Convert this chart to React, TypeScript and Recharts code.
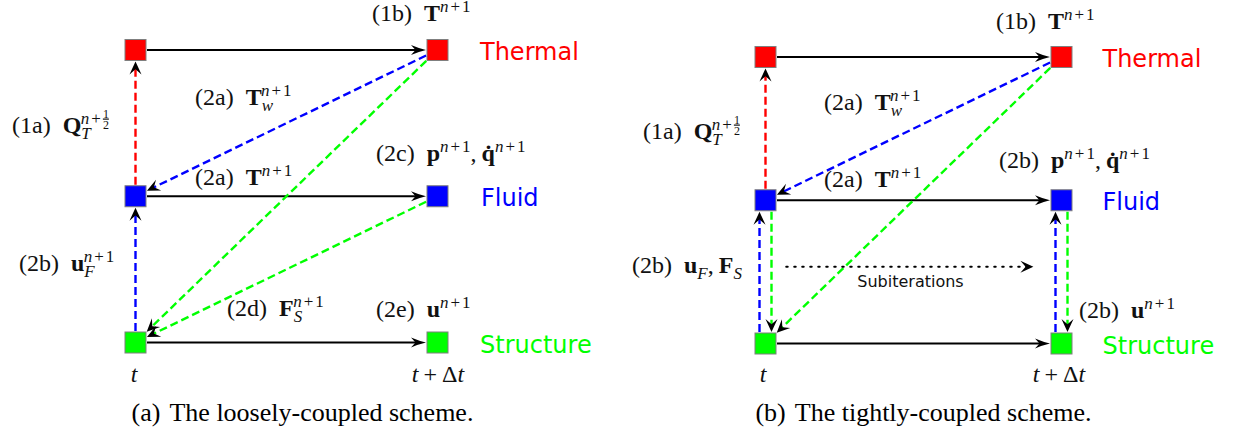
import React from 'react'
import { ScatterChart, Scatter, XAxis, YAxis, ReferenceLine, ReferenceDot } from 'recharts'

// ---- data -------------------------------------------------------------

// x: time level (0 = t, 1 = t + Δt), y: field level
const fields = ['Structure', 'Fluid', 'Thermal']
const fieldColors: Record<string, string> = {
  Structure: '#00ff00',
  Fluid: '#0000ff',
  Thermal: '#ff0000',
}

type NodeId = 'S0' | 'S1' | 'F0' | 'F1' | 'T0' | 'T1'

const nodes: { id: NodeId; step: number; level: number }[] = [
  { id: 'S0', step: 0, level: 0 },
  { id: 'S1', step: 1, level: 0 },
  { id: 'F0', step: 0, level: 1 },
  { id: 'F1', step: 1, level: 1 },
  { id: 'T0', step: 0, level: 2 },
  { id: 'T1', step: 1, level: 2 },
]

type EdgeKind = 'advance' | 'thermal' | 'fluid' | 'structure' | 'subiter'
type End = NodeId | [number, number]
type Edge = { from: End; to: End; kind: EdgeKind; lane?: number }

const looseEdges: Edge[] = [
  { from: 'T0', to: 'T1', kind: 'advance' },
  { from: 'F0', to: 'F1', kind: 'advance' },
  { from: 'S0', to: 'S1', kind: 'advance' },
  { from: 'F0', to: 'T0', kind: 'thermal' },
  { from: 'T1', to: 'F0', kind: 'fluid' },
  { from: 'T1', to: 'S0', kind: 'structure' },
  { from: 'F1', to: 'S0', kind: 'structure' },
  { from: 'S0', to: 'F0', kind: 'fluid' },
]

const tightEdges: Edge[] = [
  { from: 'T0', to: 'T1', kind: 'advance' },
  { from: 'F0', to: 'F1', kind: 'advance' },
  { from: 'S0', to: 'S1', kind: 'advance' },
  { from: 'F0', to: 'T0', kind: 'thermal' },
  { from: 'T1', to: 'F0', kind: 'fluid' },
  { from: 'T1', to: 'S0', kind: 'structure' },
  { from: 'S0', to: 'F0', kind: 'fluid', lane: -1 },
  { from: 'F0', to: 'S0', kind: 'structure', lane: 1 },
  { from: 'S1', to: 'F1', kind: 'fluid', lane: -1 },
  { from: 'F1', to: 'S1', kind: 'structure', lane: 1 },
  { from: [0.07, 0.535], to: [0.905, 0.535], kind: 'subiter' },
]

// math label pieces
type Part = {
  s: string
  f?: 'rm' | 'bf' | 'it'
  at?: 'base' | 'sup' | 'sub' | 'num' | 'den'
  gap?: number
  back?: number
}
const rm = (s: string, gap?: number): Part => ({ s, f: 'rm', gap })
const bf = (s: string, gap = 12): Part => ({ s, f: 'bf', gap })
const it = (s: string, gap?: number): Part => ({ s, f: 'it', gap })
const sub = (s: string): Part => ({ s, f: 'it', at: 'sub' })
const np1 = (back?: number): Part[] => [
  { s: 'n', f: 'it', at: 'sup', back },
  { s: '+', at: 'sup', gap: 2 },
  { s: '1', at: 'sup', gap: 2 },
]
const qHalf: Part[] = [
  rm('(1a)'),
  bf('Q'),
  sub('T'),
  { s: 'n', f: 'it', at: 'sup', back: 10 },
  { s: '+', at: 'sup', gap: 2 },
  { s: '1', at: 'num', gap: 2 },
  { s: '2', at: 'den', back: 6 },
]
const timeNow: Part[] = [it('t')]
const timeNext: Part[] = [it('t'), rm('+', 5), rm('Δ', 5), it('t')]

type Label = { id: string; at: NodeId; parts: Part[]; anchor?: 'start' | 'middle'; sans?: boolean }

const looseLabels: Label[] = [
  { id: '1b', at: 'T1', parts: [rm('(1b)'), bf('T'), ...np1()] },
  { id: '2aw', at: 'T0', parts: [rm('(2a)'), bf('T'), sub('w'), ...np1(12)] },
  { id: '1a', at: 'T0', parts: qHalf },
  { id: '2a', at: 'F0', parts: [rm('(2a)'), bf('T'), ...np1()] },
  { id: '2c', at: 'F1', parts: [rm('(2c)'), bf('p'), ...np1(), rm(','), bf('q̇', 5), ...np1()] },
  { id: '2b', at: 'S0', parts: [rm('(2b)'), bf('u'), sub('F'), ...np1(11)] },
  { id: '2d', at: 'S0', parts: [rm('(2d)'), bf('F'), sub('S'), ...np1(9)] },
  { id: '2e', at: 'S1', parts: [rm('(2e)'), bf('u'), ...np1()] },
  { id: 't', at: 'S0', parts: timeNow, anchor: 'middle' },
  { id: 'tdt', at: 'S1', parts: timeNext, anchor: 'middle' },
]

const tightLabels: Label[] = [
  { id: '1b', at: 'T1', parts: [rm('(1b)'), bf('T'), ...np1()] },
  { id: '2aw', at: 'T0', parts: [rm('(2a)'), bf('T'), sub('w'), ...np1(12)] },
  { id: '1a', at: 'T0', parts: qHalf },
  { id: '2a', at: 'F0', parts: [rm('(2a)'), bf('T'), ...np1()] },
  { id: '2bp', at: 'F1', parts: [rm('(2b)'), bf('p'), ...np1(), rm(','), bf('q̇', 5), ...np1()] },
  { id: '2buf', at: 'S0', parts: [rm('(2b)'), bf('u'), sub('F'), rm(','), bf('F', 5), sub('S')] },
  { id: 'sub', at: 'S0', parts: [{ s: 'Subiterations' }], anchor: 'middle', sans: true },
  { id: '2bu', at: 'S1', parts: [rm('(2b)'), bf('u'), ...np1()] },
  { id: 't', at: 'S0', parts: timeNow, anchor: 'middle' },
  { id: 'tdt', at: 'S1', parts: timeNext, anchor: 'middle' },
]

const captions = ['(a)', '(b)']
const captionTexts = ['The loosely-coupled scheme.', 'The tightly-coupled scheme.']

// ---- layout / style ----------------------------------------------------

const MATH = "'Liberation Serif', 'Times New Roman', serif"
const SANS = "'DejaVu Sans', Verdana, sans-serif"
const INK = '#111'
const HALF = 10.5
const LANE = 6

// label offsets (px) from their anchor node
const looseOffsets: Record<string, [number, number]> = {
  '1b': [-65.5, -29],
  '2aw': [59.5, 54.5],
  '1a': [-123.5, 82.5],
  '2a': [59.5, -11],
  '2c': [-61.5, -35],
  '2b': [-116.5, -72],
  '2d': [91.5, -27],
  '2e': [-61.5, -26],
  t: [-1.5, 39],
  tdt: [0.5, 39.5],
}
const tightOffsets: Record<string, [number, number]> = {
  '1b': [-65.5, -28.5],
  '2aw': [58.5, 52.5],
  '1a': [-122.5, 81.5],
  '2a': [58.5, -13],
  '2bp': [-62.5, -32],
  '2buf': [-133.5, -71],
  sub: [145, -56.5],
  '2bu': [17.5, -26],
  t: [-2.5, 38.5],
  tdt: [-2.5, 38.5],
}
const looseFieldOffsets: [number, number][] = [[42.5, 10.5], [43.5, 10], [42.5, 10]]
const tightFieldOffsets: [number, number][] = [[41, 10], [41, 9.5], [41, 10]]

const edgeStyles: Record<EdgeKind, { stroke: string; dash?: string; width: number; head: 'thin' | 'stealth' }> = {
  advance: { stroke: '#000', width: 2, head: 'thin' },
  thermal: { stroke: '#ff0000', dash: '8 4', width: 2.4, head: 'stealth' },
  fluid: { stroke: '#0000ff', dash: '8 4', width: 2.4, head: 'stealth' },
  structure: { stroke: '#00ff00', dash: '8 4', width: 2.4, head: 'stealth' },
  subiter: { stroke: '#000', dash: '1.5 6.5', width: 2, head: 'stealth' },
}

const SHIFT = { base: 0, sup: -9, sub: 6, num: -15, den: -4 }
const SIZE = { base: 24, sup: 17, sub: 17, num: 12, den: 12 }

const nodeById = (id: NodeId) => nodes.find((n) => n.id === id)!
const endPoint = (e: End) => (Array.isArray(e) ? { x: e[0], y: e[1] } : { x: nodeById(e).step, y: nodeById(e).level })

// ---- pieces ------------------------------------------------------------

function MathText({ x, y, parts, anchor = 'start', sans }: { x: number; y: number; parts: Part[]; anchor?: string; sans?: boolean }) {
  if (sans) {
    return (
      <text x={x} y={y} textAnchor={anchor} fontFamily={SANS} fontSize={16} fill={INK}>
        {parts.map((p) => p.s).join('')}
      </text>
    )
  }
  let shift = 0
  return (
    <text x={x} y={y} textAnchor={anchor} fontFamily={MATH} fill={INK}>
      {parts.map((p, i) => {
        const at = p.at ?? 'base'
        const dy = SHIFT[at] - shift
        shift = SHIFT[at]
        const dx = p.back ? -p.back : p.gap ?? 0
        return (
          <tspan
            key={i}
            dx={dx}
            dy={dy}
            fontSize={SIZE[at]}
            fontWeight={p.f === 'bf' ? 700 : 400}
            fontStyle={p.f === 'it' ? 'italic' : 'normal'}
            textDecoration={at === 'num' ? 'underline' : undefined}
          >
            {p.s}
          </tspan>
        )
      })}
    </text>
  )
}

function Arrow({ edge, x1, y1, x2, y2 }: { edge: Edge; x1: number; y1: number; x2: number; y2: number }) {
  const st = edgeStyles[edge.kind]
  const off = (edge.lane ?? 0) * LANE
  const ax = x1 + off
  const bx = x2 + off
  const dx = bx - ax
  const dy = y2 - y1
  const len = Math.hypot(dx, dy)
  const ux = dx / len
  const uy = dy / len
  const clip = HALF / Math.max(Math.abs(ux), Math.abs(uy)) + 1
  const t0 = Array.isArray(edge.from) ? 0 : clip
  const t1 = Array.isArray(edge.to) ? 0 : clip
  const sx = ax + ux * t0
  const sy = y1 + uy * t0
  const ex = bx - ux * t1
  const ey = y2 - uy * t1
  const thin = st.head === 'thin'
  const L = thin ? 15 : 13
  const W = thin ? 5 : 6
  const ang = (Math.atan2(uy, ux) * 180) / Math.PI
  const back = L * 0.55
  const head = thin
    ? `M0,0 Q${-L * 0.45},${-W * 0.3} ${-L},${-W} L${-L * 0.7},0 L${-L},${W} Q${-L * 0.45},${W * 0.3} 0,0 Z`
    : `M0,0 L${-L},${-W} L${-L * 0.6},0 L${-L},${W} Z`
  return (
    <g>
      <line
        x1={sx}
        y1={sy}
        x2={ex - ux * back}
        y2={ey - uy * back}
        stroke={st.stroke}
        strokeWidth={st.width}
        strokeDasharray={st.dash}
        strokeLinecap={edge.kind === 'subiter' ? 'round' : 'butt'}
      />
      <path d={head} transform={`translate(${ex},${ey}) rotate(${ang})`} fill="#000" />
    </g>
  )
}

function Square(props: any) {
  const { cx, cy, payload } = props
  const field = fields[payload.level]
  return (
    <rect
      x={cx - HALF}
      y={cy - HALF}
      width={HALF * 2}
      height={HALF * 2}
      fill={fieldColors[field]}
      stroke="#7f7f7f"
      strokeWidth={1}
    />
  )
}

function Scheme({
  edges,
  labels,
  offsets,
  fieldOffsets,
  margin,
  caption,
  captionText,
  captionShift,
}: {
  edges: Edge[]
  labels: Label[]
  offsets: Record<string, [number, number]>
  fieldOffsets: [number, number][]
  margin: { top: number; right: number; bottom: number; left: number }
  caption: string
  captionText: string
  captionShift: [number, number]
}) {
  return (
    <ScatterChart width={618} height={435} margin={margin}>
      <XAxis type="number" dataKey="step" domain={[0, 1]} hide />
      <YAxis type="number" dataKey="level" domain={[0, 2]} hide />
      {edges.map((e, i) => {
        const a = endPoint(e.from)
        const b = endPoint(e.to)
        return (
          <ReferenceLine
            key={`e${i}`}
            segment={[a, b]}
            ifOverflow="visible"
            shape={(p: any) => <Arrow edge={e} x1={p.x1} y1={p.y1} x2={p.x2} y2={p.y2} />}
          />
        )
      })}
      <Scatter data={nodes} shape={Square} isAnimationActive={false} />
      {labels.map((l) => {
        const n = nodeById(l.at)
        const [dx, dy] = offsets[l.id]
        return (
          <ReferenceDot
            key={l.id}
            x={n.step}
            y={n.level}
            r={0}
            ifOverflow="visible"
            shape={(p: any) => (
              <MathText x={p.cx + dx} y={p.cy + dy} parts={l.parts} anchor={l.anchor} sans={l.sans} />
            )}
          />
        )
      })}
      {fields.map((f, i) => (
        <ReferenceDot
          key={f}
          x={1}
          y={i}
          r={0}
          ifOverflow="visible"
          shape={(p: any) => (
            <text x={p.cx + fieldOffsets[i][0]} y={p.cy + fieldOffsets[i][1]} fontFamily={SANS} fontSize={24} fill={fieldColors[f]}>
              {f}
            </text>
          )}
        />
      ))}
      <ReferenceDot
        x={0.5}
        y={0}
        r={0}
        ifOverflow="visible"
        shape={(p: any) => (
          <text x={p.cx + captionShift[0]} y={p.cy + captionShift[1]} textAnchor="middle" fontFamily={MATH} fontSize={26} fill="#000">
            <tspan>{caption}</tspan>
            <tspan dx={9}>{captionText}</tspan>
          </text>
        )}
      />
    </ScatterChart>
  )
}

export default function App() {
  return (
    <div style={{ position: 'absolute', left: 0, top: 0, width: 1236, height: 435, background: '#fff' }}>
      <div style={{ position: 'absolute', left: 0, top: 0 }}>
        <Scheme
          edges={looseEdges}
          labels={looseLabels}
          offsets={looseOffsets}
          fieldOffsets={looseFieldOffsets}
          margin={{ top: 50, right: 180.5, bottom: 92.5, left: 135.5 }}
          caption={captions[0]}
          captionText={captionTexts[0]}
          captionShift={[16, 78.5]}
        />
      </div>
      <div style={{ position: 'absolute', left: 618, top: 0 }}>
        <Scheme
          edges={tightEdges}
          labels={tightLabels}
          offsets={tightOffsets}
          fieldOffsets={tightFieldOffsets}
          margin={{ top: 57, right: 174.5, bottom: 91.5, left: 147.5 }}
          caption={captions[1]}
          captionText={captionTexts[1]}
          captionShift={[10, 77.5]}
        />
      </div>
    </div>
  )
}
